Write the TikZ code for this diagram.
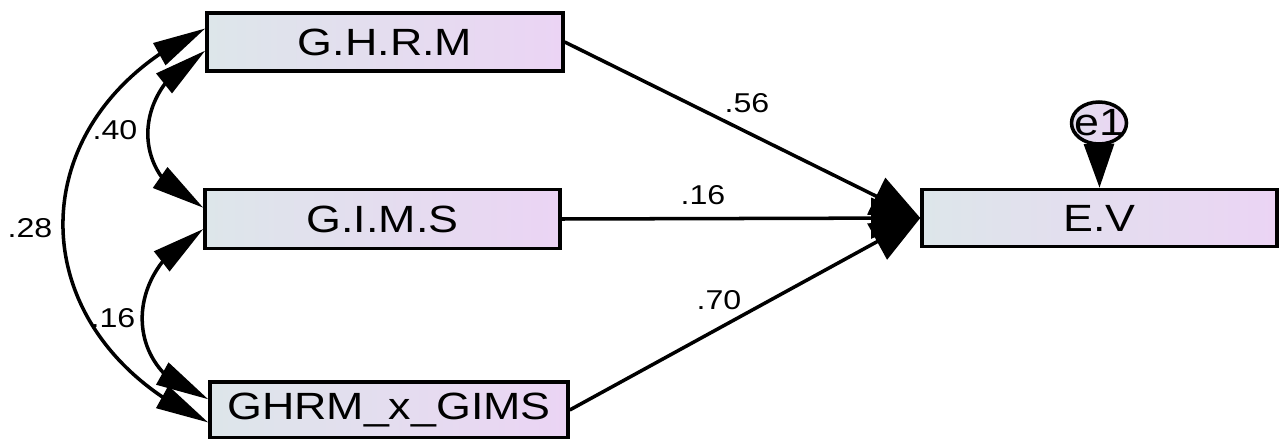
\documentclass[tikz,border=0pt]{standalone}
\usepackage{fontspec}
\newfontfamily\labfont[FakeStretch=1.18]{Liberation Sans}
\usetikzlibrary{arrows.meta,bending,shapes.geometric,calc}
\definecolor{boxL}{RGB}{221,230,234}
\definecolor{boxR}{RGB}{235,212,244}
\begin{document}
\begin{tikzpicture}[x=0.02cm,y=-0.02cm,
  obs/.style={draw=black, line width=2pt, rectangle, inner sep=0pt,
    left color=boxL, right color=boxR, text=black,
    font=\labfont\fontsize{21.6}{24}\selectfont},
  errnode/.style={draw=black, line width=2pt, ellipse, inner sep=0pt,
    left color=boxL!60!boxR, right color=boxR},
  coef/.style={font=\labfont\fontsize{15.5}{17}\selectfont, text=black, inner sep=0pt},
  regpath/.style={line width=2pt, -{Triangle[length=28pt,width=23pt]}},
  errpath/.style={line width=2pt, -{Triangle[length=25pt,width=17pt]}},
  covpath/.style={line width=2pt, {Triangle[length=30pt,width=14pt]}-{Triangle[length=30pt,width=14pt]}}
]
\useasboundingbox (0,0) rectangle (1280,439);

\node[obs, minimum width=7.12cm, minimum height=1.16cm] (ghrm) at (385,42) {G.H.R.M};
\node[obs, minimum width=7.10cm, minimum height=1.18cm] (gims) at (382.5,219) {G.I.M.S};
\node[obs, minimum width=7.16cm, minimum height=1.12cm] (inter) at (389,410) {GHRM\_x\_GIMS};
\node[obs, minimum width=7.10cm, minimum height=1.14cm] (ev) at (1099.5,218) {E.V};
\node[errnode, minimum width=1.10cm, minimum height=0.84cm,
  label={[font=\labfont\fontsize{21.6}{24}\selectfont, text=black, inner sep=0pt]center:e1}] (e1) at (1099,123) {};

\draw[regpath] (ghrm.east) -- (ev.west);
\draw[regpath] (gims.east) -- (ev.west);
\draw[regpath] (inter.east) -- (ev.west);
\draw[errpath] (e1.south) -- (ev.north);

\draw[covpath] ($(ghrm.north west)!0.64!(ghrm.south west)$) .. controls (129,89) and (129,180) .. ($(gims.north west)!0.32!(gims.south west)$);
\draw[covpath] ($(gims.north west)!0.66!(gims.south west)$) .. controls (121,270) and (121,374) .. ($(inter.north west)!0.32!(inter.south west)$);
\draw[covpath] ($(ghrm.north west)!0.28!(ghrm.south west)$) .. controls (15,115) and (15,335) .. ($(inter.north west)!0.71!(inter.south west)$);

\node[coef] (c56) at (747,103) {.56};
\node[coef] (c16a) at (703,195) {.16};
\node[coef] (c70) at (719,300) {.70};
\node[coef] (c40) at (115,130) {.40};
\node[coef] (c28) at (30,228) {.28};
\node[coef] (c16b) at (113,318) {.16};
\end{tikzpicture}
\end{document}
